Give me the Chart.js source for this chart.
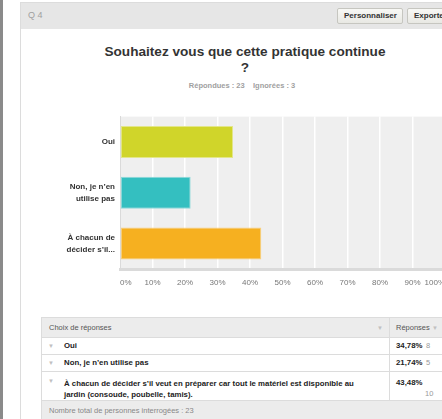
<!DOCTYPE html>
<html>
<head>
<meta charset="utf-8">
<script src="https://cdn.jsdelivr.net/npm/chart.js@4/dist/chart.umd.min.js"></script>
<style>
html, body { margin:0; padding:0; width:442px; height:419px; overflow:hidden; background:#fff;
  font-family:"Liberation Sans", Arial, sans-serif; }
.abs { position:absolute; }
#leftbar { left:0; top:0; width:3px; height:419px; background:#8a8a8a; }
#panel { left:20px; top:2px; width:470px; height:430px; border:1px solid #dcdcdc; box-sizing:border-box; }
#head { left:21px; top:3px; width:470px; height:26px; background:#e6e6e6; }
#qnum { left:28px; top:10px; font-size:9px; color:#a0a0a0; }
.btn { top:8px; height:16px; box-sizing:border-box; border:1px solid #c6c6c0; border-radius:2px;
  background:linear-gradient(#f8f8f5,#e8e8e3); font-size:8px; font-weight:bold; color:#333;
  line-height:14px; padding:0 6px; }
#title { left:21px; width:448px; top:44px; text-align:center; font-size:13.6px; line-height:16px;
  font-weight:bold; color:#333; }
#sub { left:21px; width:442px; top:81px; text-align:center; font-size:7.5px; font-weight:bold; color:#a0a0a0; }
#wrap { left:0; top:100px; width:470px; height:200px; }
.cell { box-sizing:border-box; border:1px solid #dcdcdc; }
.txt { font-size:7.5px; color:#555; }
.b { font-weight:bold; color:#222; font-size:7.8px; }
.arr { font-size:6px; color:#c0c0c0; }
</style>
</head>
<body>
<div id="leftbar" class="abs"></div>
<div id="panel" class="abs"></div>
<div id="head" class="abs"></div>
<div id="qnum" class="abs">Q 4</div>
<div class="abs btn" style="left:337px;width:66px;">Personnaliser</div>
<div class="abs btn" style="left:407px;width:60px;">Exporter</div>
<div id="title" class="abs">Souhaitez vous que cette pratique continue<br>?</div>
<div id="sub" class="abs">Répondues : 23 &nbsp;&nbsp; Ignorées : 3</div>

<div id="wrap" class="abs"><canvas id="chart" width="470" height="200"></canvas></div>

<!-- tableau -->
<div class="abs cell" style="left:41px;top:317px;width:349px;height:21px;background:#ececec;"></div>
<div class="abs cell" style="left:389px;top:317px;width:80px;height:21px;background:#ececec;"></div>
<div class="abs cell" style="left:41px;top:337px;width:349px;height:18px;"></div>
<div class="abs cell" style="left:389px;top:337px;width:80px;height:18px;"></div>
<div class="abs cell" style="left:41px;top:354px;width:349px;height:18px;"></div>
<div class="abs cell" style="left:389px;top:354px;width:80px;height:18px;"></div>
<div class="abs cell" style="left:41px;top:371px;width:349px;height:30px;"></div>
<div class="abs cell" style="left:389px;top:371px;width:80px;height:30px;"></div>
<div class="abs cell" style="left:41px;top:400px;width:428px;height:25px;background:#ececec;"></div>

<div class="abs txt" style="left:49px;top:323px;">Choix de réponses</div>
<div class="abs arr" style="left:377px;top:325px;">▼</div>
<div class="abs txt" style="left:396px;top:323px;">Réponses</div>
<div class="abs arr" style="left:432px;top:325px;">▼</div>

<div class="abs arr" style="left:48px;top:343px;">▼</div>
<div class="abs txt b" style="left:64px;top:341px;">Oui</div>
<div class="abs txt b" style="left:396px;top:341px;">34,78%</div>
<div class="abs txt" style="left:426px;top:341px;color:#999;">8</div>

<div class="abs arr" style="left:48px;top:360px;">▼</div>
<div class="abs txt b" style="left:64px;top:358px;">Non, je n’en utilise pas</div>
<div class="abs txt b" style="left:396px;top:358px;">21,74%</div>
<div class="abs txt" style="left:426px;top:358px;color:#999;">5</div>

<div class="abs arr" style="left:48px;top:378px;">▼</div>
<div class="abs txt b" style="left:64px;top:378px;width:300px;line-height:11px;">À chacun de décider s’il veut en préparer car tout le matériel est disponible au jardin (consoude, poubelle, tamis).</div>
<div class="abs txt b" style="left:396px;top:378px;">43,48%</div>
<div class="abs txt" style="left:425px;top:389px;color:#999;">10</div>

<div class="abs txt" style="left:49px;top:406px;color:#888;">Nombre total de personnes interrogées : 23</div>

<script>
var categories = ['Oui', ['Non, je n’en', 'utilise pas'], ['À chacun de', 'décider s’il...']];
var percents = [34.78, 21.74, 43.48];
var barColors = ['#d0d52a', '#34bfc0', '#f6b020'];
var barEdges = ['#e3e68a', '#8fd9da', '#f9cf7c'];

var plotBg = {
    id: 'plotBg',
    beforeDraw: function(chart) {
        var a = chart.chartArea, c = chart.ctx;
        c.save();
        c.fillStyle = '#efefef';
        c.fillRect(a.left, a.top, a.right - a.left, a.bottom - a.top);
        c.restore();
    }
};

Chart.defaults.font.family = '"Liberation Sans", Arial, sans-serif';

new Chart(document.getElementById('chart'), {
    type: 'bar',
    data: {
        labels: categories,
        datasets: [{
            data: percents,
            backgroundColor: barColors,
            borderColor: barEdges,
            borderWidth: 1,
            borderSkipped: false,
            barPercentage: 0.63,
            categoryPercentage: 1
        }]
    },
    options: {
        indexAxis: 'y',
        responsive: false,
        animation: false,
        layout: { padding: { left: 0, top: 7, right: 25, bottom: 0 } },
        plugins: { legend: { display: false }, tooltip: { enabled: false } },
        scales: {
            x: {
                min: 0, max: 100,
                ticks: {
                    stepSize: 10,
                    align: 'inner',
                    padding: 9,
                    color: '#777',
                    font: { size: 8 },
                    callback: function(v) { return v + '%'; }
                },
                grid: { color: '#ffffff', lineWidth: 1.5, drawTicks: false },
                border: { color: '#dadada', width: 3 },
                afterFit: function(scale) { scale.height = 31; }
            },
            y: {
                ticks: {
                    padding: 5,
                    color: '#333',
                    font: { size: 8, weight: 'bold', lineHeight: 1.45 }
                },
                grid: { display: false, drawTicks: false },
                border: { color: '#dadada', width: 1 },
                afterFit: function(scale) { scale.width = 120; }
            }
        }
    },
    plugins: [plotBg]
});
</script>
</body>
</html>
